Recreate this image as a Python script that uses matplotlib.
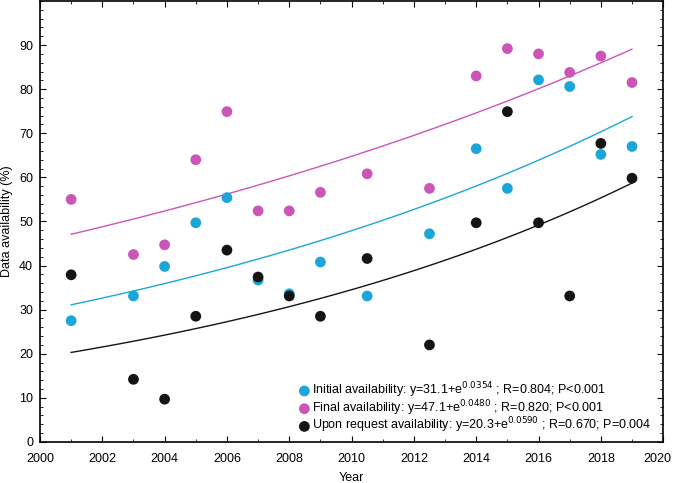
import matplotlib
matplotlib.use("Agg")
import matplotlib.pyplot as plt
from matplotlib.ticker import MultipleLocator
import matplotlib.transforms as mtransforms
import numpy as np

plt.rcParams['font.family'] = ['Liberation Sans', 'DejaVu Sans']

# data
years = [2001, 2003, 2004, 2005, 2006, 2007, 2008, 2009, 2010.5, 2012.5,
         2014, 2015, 2016, 2017, 2018, 2019]
initial = [27.5, 33.1, 39.8, 49.7, 55.4, 36.7, 33.6, 40.8, 33.1, 47.2,
           66.5, 57.5, 82.1, 80.6, 65.2, 67.0]
final = [55.0, 42.5, 44.7, 64.0, 74.9, 52.4, 52.4, 56.6, 60.8, 57.5,
         83.0, 89.2, 88.0, 83.8, 87.5, 81.5]
upon_request = [37.9, 14.2, 9.7, 28.5, 43.5, 37.4, 33.1, 28.5, 41.6, 22.0,
                49.7, 74.9, 49.7, 33.1, 67.7, 59.8]

# exponential fits  y = a*exp(b*(year-2001))
fit_a = [31.1, 47.1, 20.3]
fit_b = [0.0480, 0.0354, 0.0590]

labels = [
    r'Initial availability: y=31.1+e$^{0.0354}$ ; R=0.804; P<0.001',
    r'Final availability: y=47.1+e$^{0.0480}$ ; R=0.820; P<0.001',
    r'Upon request availability: y=20.3+e$^{0.0590}$ ; R=0.670; P=0.004',
]
colors = ['#1ba6d9', '#cc55b8', '#141414']
year_ticks = list(range(2000, 2021, 2))

fig = plt.figure(figsize=(6.73, 4.83), dpi=100)
ax = fig.add_axes([0.0594, 0.085, 0.926, 0.913])

xs = np.linspace(min(years), max(years), 100)
for series, a, b, col, lab in zip([initial, final, upon_request], fit_a, fit_b, colors, labels):
    ax.plot(xs, a * np.exp(b * (xs - 2001)), color=col, lw=1.0, zorder=2)
    ax.scatter(years, series, s=60, color=col, label=lab, zorder=3, edgecolors='none')

ax.set_xlim(2000, 2020)
ax.set_ylim(0, 100)
ax.set_xticks(year_ticks)
ax.xaxis.set_minor_locator(MultipleLocator(1))
ax.yaxis.set_minor_locator(MultipleLocator(2))
ax.set_yticks(range(0, 100, 10))
ax.tick_params(which='both', direction='in', top=True, right=True, labelsize=9)
ax.tick_params(axis='x', pad=8)
ax.tick_params(axis='y', pad=5)
ax.tick_params(which='major', length=4, width=0.8)
ax.tick_params(which='minor', length=2, width=0.6)
for s in ax.spines.values():
    s.set_linewidth(1.2)

ax.set_xlabel('Year', fontsize=9, labelpad=5)
ax.set_ylabel('Data availability (%)', fontsize=9, labelpad=4)

leg = ax.legend(loc='lower right', frameon=False, fontsize=9, handletextpad=0.1,
                labelspacing=-0.15, borderaxespad=0.3, handlelength=1.0,
                bbox_to_anchor=(0.995, -0.005))

# nudge the last year label so it stays inside the figure
fig.canvas.draw()
for t in ax.xaxis.get_major_ticks():
    if t.label1.get_text() == '2020':
        t.label1.set_transform(t.label1.get_transform() +
                               mtransforms.ScaledTranslation(-6 / 100, 0, fig.dpi_scale_trans))

fig.savefig('out.png', dpi=100)
